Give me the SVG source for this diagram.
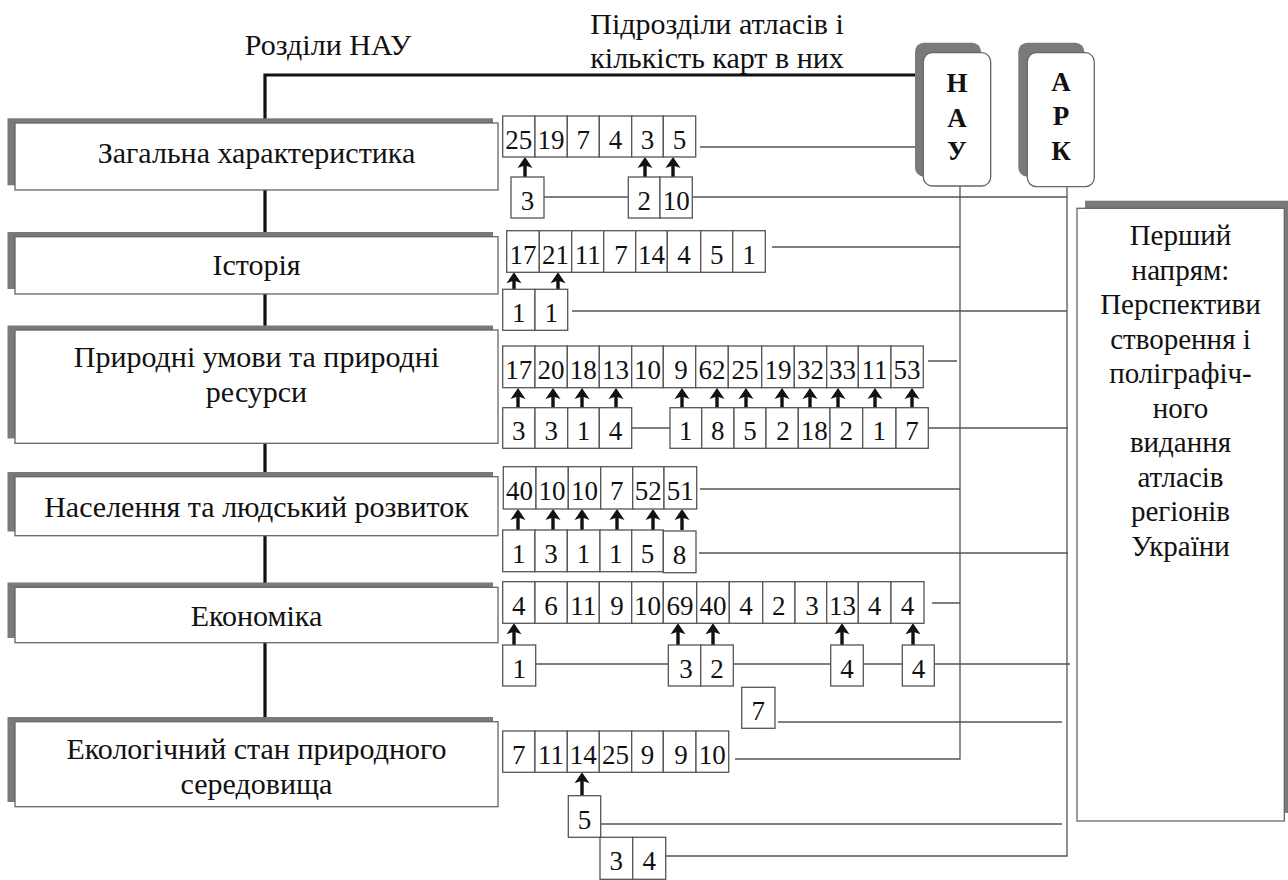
<svg xmlns="http://www.w3.org/2000/svg" width="1288" height="880" viewBox="0 0 1288 880">
<style>
.c{fill:#fff;stroke:#555;stroke-width:1.3}
.n{font-family:"Liberation Serif","Times New Roman",serif;font-size:27px;fill:#111;text-anchor:middle}
.t{font-family:"Liberation Serif","Times New Roman",serif;font-size:30px;fill:#111;text-anchor:middle}
.r{font-size:29px}
.b{font-weight:bold;font-size:27px}
.sh{fill:#7a7a7a}
.bx{fill:#fff;stroke:#666;stroke-width:1.3}
.ln{stroke:#555;stroke-width:1.3;fill:none}
.tk{stroke:#111;stroke-width:3.2;fill:none}
.arr{fill:#111}
</style>
<rect width="1288" height="880" fill="#fff"/>
<g id="titles">
<text class="t" x="328" y="55">Розділи НАУ</text>
<text class="t" x="717" y="33.5">Підрозділи атласів і</text>
<text class="t" x="717" y="68">кількість карт в них</text>
</g>
<g id="connectors">
<path class="tk" d="M265 720V75H916"/>
<path class="ln" d="M700 147H915M544 197H628M692 197H1067M960 186V759H735M1067 187V856H666"/>
<path class="ln" d="M772 247H960M572 311H1067"/>
<path class="ln" d="M928 361H957M632 428H670M928 428H1068"/>
<path class="ln" d="M700 489H960M699 553H1068"/>
<path class="ln" d="M932 603H960M536 664H668M733 664H831M863 664H902M934 664H1070"/>
<path class="ln" d="M778 722H1062M601 824H1062"/>
<g class="arr">
<path d="M525 157l7.5 11-5.8-2V177h-3.4V166l-5.8 2z"/>
<path d="M645 157l7.5 11-5.8-2V177h-3.4V166l-5.8 2z"/>
<path d="M673 157l7.5 11-5.8-2V177h-3.4V166l-5.8 2z"/>
<path d="M514 272.3l7.5 11-5.8-2V289.3h-3.4V281.3l-5.8 2z"/>
<path d="M558 272.3l7.5 11-5.8-2V289.3h-3.4V281.3l-5.8 2z"/>
<path d="M518 388l7.5 11-5.8-2V408h-3.4V397l-5.8 2z"/>
<path d="M553 388l7.5 11-5.8-2V408h-3.4V397l-5.8 2z"/>
<path d="M582 388l7.5 11-5.8-2V408h-3.4V397l-5.8 2z"/>
<path d="M616 388l7.5 11-5.8-2V408h-3.4V397l-5.8 2z"/>
<path d="M682 388l7.5 11-5.8-2V408h-3.4V397l-5.8 2z"/>
<path d="M717 388l7.5 11-5.8-2V408h-3.4V397l-5.8 2z"/>
<path d="M746 388l7.5 11-5.8-2V408h-3.4V397l-5.8 2z"/>
<path d="M782 388l7.5 11-5.8-2V408h-3.4V397l-5.8 2z"/>
<path d="M810 388l7.5 11-5.8-2V408h-3.4V397l-5.8 2z"/>
<path d="M838 388l7.5 11-5.8-2V408h-3.4V397l-5.8 2z"/>
<path d="M875 388l7.5 11-5.8-2V408h-3.4V397l-5.8 2z"/>
<path d="M912 388l7.5 11-5.8-2V408h-3.4V397l-5.8 2z"/>
<path d="M518 509l7.5 11-5.8-2V530h-3.4V518l-5.8 2z"/>
<path d="M553 509l7.5 11-5.8-2V530h-3.4V518l-5.8 2z"/>
<path d="M582 509l7.5 11-5.8-2V530h-3.4V518l-5.8 2z"/>
<path d="M617 509l7.5 11-5.8-2V530h-3.4V518l-5.8 2z"/>
<path d="M653 509l7.5 11-5.8-2V530h-3.4V518l-5.8 2z"/>
<path d="M682 509l7.5 11-5.8-2V530h-3.4V518l-5.8 2z"/>
<path d="M514 623.3l7.5 11-5.8-2V645h-3.4V632.3l-5.8 2z"/>
<path d="M678 623.3l7.5 11-5.8-2V645h-3.4V632.3l-5.8 2z"/>
<path d="M713 623.3l7.5 11-5.8-2V645h-3.4V632.3l-5.8 2z"/>
<path d="M842 623.3l7.5 11-5.8-2V645h-3.4V632.3l-5.8 2z"/>
<path d="M913 623.3l7.5 11-5.8-2V645h-3.4V632.3l-5.8 2z"/>
<path d="M582 772.3l7.5 11-5.8-2V795.7h-3.4V781.3l-5.8 2z"/>
</g>
</g>
<g id="sec1"><rect class="sh" x="7.5" y="118.3" width="485.5" height="67"/><rect class="bx" x="15" y="123" width="483" height="67"/><text class="t" x="256.5" y="163">Загальна характеристика</text></g>
<g id="sec2"><rect class="sh" x="7.5" y="232" width="485.5" height="57"/><rect class="bx" x="15" y="236.7" width="483" height="57.3"/><text class="t" x="256.5" y="274.5">Історія</text></g>
<g id="sec3"><rect class="sh" x="7.5" y="325.5" width="485.5" height="113"/><rect class="bx" x="15" y="330" width="483" height="113.3"/><text class="t" x="256.5" y="367">Природні умови та природні</text><text class="t" x="256.5" y="402">ресурси</text></g>
<g id="sec4"><rect class="sh" x="7.5" y="472" width="485.5" height="59.5"/><rect class="bx" x="15" y="476.7" width="483" height="59"/><text class="t" x="256.5" y="516.5">Населення та людський розвиток</text></g>
<g id="sec5"><rect class="sh" x="7.5" y="582.5" width="485.5" height="55.5"/><rect class="bx" x="15" y="587.3" width="483" height="55.4"/><text class="t" x="256.5" y="626">Економіка</text></g>
<g id="sec6"><rect class="sh" x="7.5" y="717" width="485.5" height="85"/><rect class="bx" x="15" y="721.7" width="483" height="85"/><text class="t" x="256.5" y="758.5">Екологічний стан природного</text><text class="t" x="256.5" y="793.5">середовища</text></g>
<g id="row1">
<rect class="c" x="502.7" y="116" width="32.3" height="41"/><text class="n" x="518.8" y="148.5">25</text>
<rect class="c" x="535" y="116" width="32.3" height="41"/><text class="n" x="551.1" y="148.5">19</text>
<rect class="c" x="567.3" y="116" width="32" height="41"/><text class="n" x="583.3" y="148.5">7</text>
<rect class="c" x="599.3" y="116" width="32.4" height="41"/><text class="n" x="615.5" y="148.5">4</text>
<rect class="c" x="631.7" y="116" width="31.6" height="41"/><text class="n" x="647.5" y="148.5">3</text>
<rect class="c" x="663.3" y="116" width="32.4" height="41"/><text class="n" x="679.5" y="148.5">5</text>
<rect class="c" x="511" y="177" width="33" height="41"/><text class="n" x="527.5" y="209.5">3</text>
<rect class="c" x="628.3" y="177" width="31.7" height="41"/><text class="n" x="644.2" y="209.5">2</text>
<rect class="c" x="660" y="177" width="32.3" height="41"/><text class="n" x="676.2" y="209.5">10</text>
</g>
<g id="row2">
<rect class="c" x="506.7" y="230.7" width="32.6" height="41.6"/><text class="n" x="523" y="263.5">17</text>
<rect class="c" x="539.3" y="230.7" width="32.4" height="41.6"/><text class="n" x="555.5" y="263.5">21</text>
<rect class="c" x="571.7" y="230.7" width="32" height="41.6"/><text class="n" x="587.7" y="263.5">11</text>
<rect class="c" x="603.7" y="230.7" width="32" height="41.6"/><text class="n" x="621" y="263.5">7</text>
<rect class="c" x="635.7" y="230.7" width="31.6" height="41.6"/><text class="n" x="651.5" y="263.5">14</text>
<rect class="c" x="667.3" y="230.7" width="33.4" height="41.6"/><text class="n" x="684" y="263.5">4</text>
<rect class="c" x="700.7" y="230.7" width="32" height="41.6"/><text class="n" x="716.7" y="263.5">5</text>
<rect class="c" x="732.7" y="230.7" width="32.6" height="41.6"/><text class="n" x="749" y="263.5">1</text>
<rect class="c" x="502.7" y="289.3" width="32.3" height="41"/><text class="n" x="518.8" y="321.8">1</text>
<rect class="c" x="535" y="289.3" width="32.7" height="41"/><text class="n" x="551.3" y="321.8">1</text>
</g>
<g id="row3">
<rect class="c" x="502.7" y="346" width="32.3" height="41.7"/><text class="n" x="518.8" y="379">17</text>
<rect class="c" x="535" y="346" width="32.3" height="41.7"/><text class="n" x="551.1" y="379">20</text>
<rect class="c" x="567.3" y="346" width="32" height="41.7"/><text class="n" x="583.3" y="379">18</text>
<rect class="c" x="599.3" y="346" width="32.4" height="41.7"/><text class="n" x="615.5" y="379">13</text>
<rect class="c" x="631.7" y="346" width="31.6" height="41.7"/><text class="n" x="647.5" y="379">10</text>
<rect class="c" x="663.3" y="346" width="32.4" height="41.7"/><text class="n" x="681" y="379">9</text>
<rect class="c" x="695.7" y="346" width="32.6" height="41.7"/><text class="n" x="712" y="379">62</text>
<rect class="c" x="728.3" y="346" width="33.4" height="41.7"/><text class="n" x="745" y="379">25</text>
<rect class="c" x="761.7" y="346" width="32.6" height="41.7"/><text class="n" x="778" y="379">19</text>
<rect class="c" x="794.3" y="346" width="32.4" height="41.7"/><text class="n" x="810.5" y="379">32</text>
<rect class="c" x="826.7" y="346" width="31.6" height="41.7"/><text class="n" x="842.5" y="379">33</text>
<rect class="c" x="858.3" y="346" width="32.7" height="41.7"/><text class="n" x="874.6" y="379">11</text>
<rect class="c" x="891" y="346" width="32.3" height="41.7"/><text class="n" x="907.1" y="379">53</text>
<rect class="c" x="502.7" y="407.7" width="32.3" height="40.6"/><text class="n" x="518.8" y="440">3</text>
<rect class="c" x="535" y="407.7" width="32.7" height="40.6"/><text class="n" x="551.3" y="440">3</text>
<rect class="c" x="567.7" y="407.7" width="31.6" height="40.6"/><text class="n" x="583.5" y="440">1</text>
<rect class="c" x="599.3" y="407.7" width="32.4" height="40.6"/><text class="n" x="615.5" y="440">4</text>
<rect class="c" x="670" y="407.7" width="31.7" height="40.6"/><text class="n" x="685.8" y="440">1</text>
<rect class="c" x="701.7" y="407.7" width="32.3" height="40.6"/><text class="n" x="717.8" y="440">8</text>
<rect class="c" x="734" y="407.7" width="32" height="40.6"/><text class="n" x="750" y="440">5</text>
<rect class="c" x="766" y="407.7" width="32.3" height="40.6"/><text class="n" x="783" y="440">2</text>
<rect class="c" x="798.3" y="407.7" width="31.7" height="40.6"/><text class="n" x="814.2" y="440">18</text>
<rect class="c" x="830" y="407.7" width="32.7" height="40.6"/><text class="n" x="846.3" y="440">2</text>
<rect class="c" x="862.7" y="407.7" width="33.3" height="40.6"/><text class="n" x="879.3" y="440">1</text>
<rect class="c" x="896" y="407.7" width="32.3" height="40.6"/><text class="n" x="912.1" y="440">7</text>
</g>
<g id="row4">
<rect class="c" x="503.3" y="466.7" width="32.7" height="42.3"/><text class="n" x="519.6" y="500">40</text>
<rect class="c" x="536" y="466.7" width="32.3" height="42.3"/><text class="n" x="552.1" y="500">10</text>
<rect class="c" x="568.3" y="466.7" width="32.4" height="42.3"/><text class="n" x="584.5" y="500">10</text>
<rect class="c" x="600.7" y="466.7" width="32" height="42.3"/><text class="n" x="616.7" y="500">7</text>
<rect class="c" x="632.7" y="466.7" width="31.3" height="42.3"/><text class="n" x="648.3" y="500">52</text>
<rect class="c" x="664" y="466.7" width="32.7" height="42.3"/><text class="n" x="680.3" y="500">51</text>
<rect class="c" x="502.7" y="530" width="32.3" height="41.7"/><text class="n" x="518.8" y="562.5">1</text>
<rect class="c" x="535" y="530" width="32.3" height="41.7"/><text class="n" x="551.1" y="562.5">3</text>
<rect class="c" x="567.3" y="530" width="32.7" height="41.7"/><text class="n" x="583.6" y="562.5">1</text>
<rect class="c" x="600" y="530" width="31.7" height="41.7"/><text class="n" x="615.8" y="562.5">1</text>
<rect class="c" x="631.7" y="530" width="31.6" height="41.7"/><text class="n" x="647.5" y="562.5">5</text>
<rect class="c" x="663.3" y="531" width="32.7" height="41.7"/><text class="n" x="679.6" y="563.5">8</text>
</g>
<g id="row5">
<rect class="c" x="502.7" y="581.7" width="32.3" height="41.6"/><text class="n" x="518.8" y="614.5">4</text>
<rect class="c" x="535" y="581.7" width="32.3" height="41.6"/><text class="n" x="551.1" y="614.5">6</text>
<rect class="c" x="567.3" y="581.7" width="32" height="41.6"/><text class="n" x="583.3" y="614.5">11</text>
<rect class="c" x="599.3" y="581.7" width="32.4" height="41.6"/><text class="n" x="617" y="614.5">9</text>
<rect class="c" x="631.7" y="581.7" width="31.6" height="41.6"/><text class="n" x="647.5" y="614.5">10</text>
<rect class="c" x="663.3" y="581.7" width="33.4" height="41.6"/><text class="n" x="680" y="614.5">69</text>
<rect class="c" x="696.7" y="581.7" width="32.6" height="41.6"/><text class="n" x="713" y="614.5">40</text>
<rect class="c" x="729.3" y="581.7" width="33.4" height="41.6"/><text class="n" x="746" y="614.5">4</text>
<rect class="c" x="762.7" y="581.7" width="32.3" height="41.6"/><text class="n" x="778.8" y="614.5">2</text>
<rect class="c" x="795" y="581.7" width="31.7" height="41.6"/><text class="n" x="812" y="614.5">3</text>
<rect class="c" x="826.7" y="581.7" width="31.6" height="41.6"/><text class="n" x="842.5" y="614.5">13</text>
<rect class="c" x="858.3" y="581.7" width="32.7" height="41.6"/><text class="n" x="874.6" y="614.5">4</text>
<rect class="c" x="891" y="581.7" width="33" height="41.6"/><text class="n" x="907.5" y="614.5">4</text>
<rect class="c" x="502.7" y="645" width="33" height="41"/><text class="n" x="519.2" y="677.5">1</text>
<rect class="c" x="668.3" y="645" width="32.4" height="41"/><text class="n" x="686" y="677.5">3</text>
<rect class="c" x="700.7" y="645" width="32.6" height="41"/><text class="n" x="717" y="677.5">2</text>
<rect class="c" x="830.7" y="645" width="32.6" height="41"/><text class="n" x="847" y="677.5">4</text>
<rect class="c" x="902.3" y="645" width="32" height="41"/><text class="n" x="918.5" y="677.5">4</text>
<rect class="c" x="741.7" y="687.3" width="33.3" height="41"/><text class="n" x="758.3" y="719.8">7</text>
</g>
<g id="row6">
<rect class="c" x="502.7" y="731" width="32.3" height="41.3"/><text class="n" x="518.8" y="763.5">7</text>
<rect class="c" x="535" y="731" width="32.3" height="41.3"/><text class="n" x="551.1" y="763.5">11</text>
<rect class="c" x="567.3" y="731" width="32" height="41.3"/><text class="n" x="583.3" y="763.5">14</text>
<rect class="c" x="599.3" y="731" width="32.4" height="41.3"/><text class="n" x="615.5" y="763.5">25</text>
<rect class="c" x="631.7" y="731" width="31.6" height="41.3"/><text class="n" x="647.5" y="763.5">9</text>
<rect class="c" x="663.3" y="731" width="32.7" height="41.3"/><text class="n" x="681" y="763.5">9</text>
<rect class="c" x="696" y="731" width="32.7" height="41.3"/><text class="n" x="712.3" y="763.5">10</text>
<rect class="c" x="568.3" y="795.7" width="32.4" height="41.6"/><text class="n" x="584.5" y="828.5">5</text>
<rect class="c" x="600" y="837.3" width="32.7" height="42"/><text class="n" x="616.3" y="870">3</text>
<rect class="c" x="632.7" y="837.3" width="33" height="42"/><text class="n" x="649.2" y="870">4</text>
</g>
<g id="nau">
<rect class="sh" x="915" y="42.7" width="66" height="134" rx="9"/>
<rect class="bx" x="923.3" y="52.7" width="67.4" height="133.3" rx="9"/>
<text class="t b" x="957" y="92">Н</text><text class="t b" x="957" y="126.5">А</text><text class="t b" x="957" y="160">У</text>
</g>
<g id="ark">
<rect class="sh" x="1018.3" y="42.7" width="66" height="134" rx="9"/>
<rect class="bx" x="1027.3" y="52.7" width="67" height="134" rx="9"/>
<text class="t b" x="1061" y="91">А</text><text class="t b" x="1061" y="125">Р</text><text class="t b" x="1061" y="160">К</text>
</g>
<g id="direction">
<rect class="sh" x="1085" y="200.7" width="203" height="612.3"/>
<rect class="bx" x="1077" y="208.3" width="207.3" height="612.7"/>
<text class="t r" x="1180.5" y="245">Перший</text>
<text class="t r" x="1180.5" y="279.5">напрям:</text>
<text class="t r" x="1180.5" y="314">Перспективи</text>
<text class="t r" x="1180.5" y="348.5">створення і</text>
<text class="t r" x="1180.5" y="383">поліграфіч-</text>
<text class="t r" x="1180.5" y="417.5">ного</text>
<text class="t r" x="1180.5" y="452">видання</text>
<text class="t r" x="1180.5" y="486.5">атласів</text>
<text class="t r" x="1180.5" y="521">регіонів</text>
<text class="t r" x="1180.5" y="555.5">України</text>
</g>
</svg>
